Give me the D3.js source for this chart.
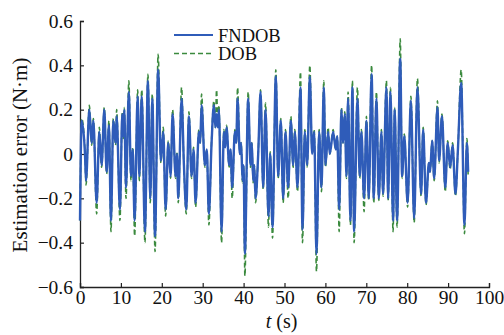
<!DOCTYPE html>
<html>
<head>
<meta charset="utf-8">
<script src="https://cdn.jsdelivr.net/npm/d3@7"></script>
<style>
  body { margin: 0; background: #fff; }
</style>
</head>
<body>
<div id="chart"></div>
<script>
// estimation error at its local peaks and troughs
var times = [0, 0.41, 1.22, 1.47, 2.28, 2.85, 3.26, 4.07, 4.72, 5.29, 5.94, 6.51, 7.08, 7.57, 8.14, 8.71, 8.96, 9.77,
  10.34, 10.6, 10.83, 11.24, 11.95, 12.46, 12.9, 13.35, 14.1, 14.5, 15.1, 15.88, 16.61, 17.18, 17.67, 18.35, 19.1, 19.79,
  20.36, 20.93, 21.58, 22.15, 22.64, 23.37, 23.7, 24.02, 24.84, 25.41, 25.98, 26.63, 27.28, 27.77, 28.26, 29.07, 29.4, 29.72,
  30.54, 31.0, 31.51, 32.17, 32.74, 33.1, 33.39, 33.7, 33.96, 34.61, 35.18, 35.5, 35.83, 36.48, 36.8, 37.21, 37.87, 38.2, 38.52,
  39.09, 39.4, 39.74, 40.0, 40.31, 41.12, 41.69, 42.0, 42.35, 42.6, 42.92, 43.57, 44.14, 44.79, 45.36, 46.09, 46.5, 47.07, 47.88,
  48.45, 49.1, 49.67, 50.24, 50.9, 51.55, 52.12, 52.52, 53.18, 53.91, 54.4, 54.97, 55.54, 56.19, 56.76, 57.25, 57.82, 58.47,
  59.04, 59.61, 60.02, 60.67, 61.07, 61.89, 62.54, 62.9, 63.36, 63.93, 64.3, 64.74, 65.15, 65.55, 66.12, 66.61, 67.02, 67.83,
  68.4, 68.81, 69.46, 70.03, 70.6, 71.3, 71.82, 72.48, 73.05, 73.7, 74.1, 74.92, 75.33, 75.9, 76.55, 76.95, 77.52, 78.3,
  78.75, 79.3, 80.1, 80.9, 81.7, 82.5, 83.4, 83.9, 84.6, 85.3, 85.6, 86.1, 86.6, 87.4, 87.8, 88.5, 89.3, 89.9, 90.5, 91.1,
  91.8, 92.4, 93.2, 94.0, 94.6, 94.9];

var fndob = [-0.30, 0.15, 0.00, -0.12, 0.20, 0.05, 0.15, -0.22, 0.10, -0.05, 0.20, -0.08, 0.13, -0.30, 0.15, 0.05, 0.17, -0.25,
  0.18, 0.08, 0.20, -0.15, 0.28, -0.10, 0.02, -0.30, 0.26, -0.10, 0.26, -0.35, 0.33, -0.20, 0.25, -0.37, 0.38, -0.03,
  0.10, -0.25, 0.05, -0.10, 0.18, -0.10, 0.00, -0.20, 0.25, -0.05, -0.25, 0.17, -0.10, 0.02, -0.22, 0.10, 0.05, 0.22,
  -0.05, 0.02, -0.27, 0.05, 0.22, 0.12, 0.18, 0.12, 0.20, -0.35, 0.10, 0.03, 0.12, -0.05, 0.02, -0.15, 0.10, 0.05, 0.25,
  0.00, 0.05, -0.12, -0.05, -0.45, 0.25, -0.05, 0.05, -0.12, -0.05, -0.20, 0.00, 0.28, -0.15, 0.20, -0.28, 0.00, -0.33, 0.35,
  -0.10, 0.15, -0.20, 0.10, -0.15, 0.15, -0.05, 0.10, -0.15, 0.30, -0.34, 0.10, -0.05, 0.35, 0.00, 0.10, -0.45, 0.10,
  -0.15, 0.30, -0.05, 0.10, 0.00, 0.10, 0.02, 0.08, -0.25, 0.20, 0.05, 0.18, -0.10, 0.25, -0.30, 0.30, -0.35, 0.25,
  -0.10, 0.10, -0.20, 0.15, -0.20, 0.36, -0.20, 0.25, -0.20, 0.10, -0.18, 0.30, -0.20, 0.28, -0.30, 0.20, -0.30, 0.43,
  -0.10, 0.08, -0.22, 0.24, -0.29, 0.30, -0.18, 0.11, -0.22, -0.04, -0.08, 0.06, -0.11, 0.21, -0.03, 0.17, -0.15, 0.05, -0.06, 0.04,
  -0.18, 0.02, 0.32, -0.32, 0.05, -0.08];

var dob = [-0.30, 0.16, 0.01, -0.14, 0.22, 0.04, 0.16, -0.27, 0.12, -0.06, 0.21, -0.09, 0.15, -0.35, 0.16, 0.04, 0.20, -0.30,
  0.19, 0.07, 0.21, -0.20, 0.33, -0.12, 0.03, -0.37, 0.29, -0.12, 0.29, -0.40, 0.36, -0.22, 0.27, -0.44, 0.45, -0.04,
  0.12, -0.28, 0.06, -0.11, 0.20, -0.11, 0.01, -0.22, 0.30, -0.06, -0.27, 0.19, -0.11, 0.03, -0.24, 0.11, 0.05, 0.27,
  -0.06, 0.02, -0.32, 0.06, 0.24, 0.12, 0.29, 0.13, 0.22, -0.40, 0.11, 0.03, 0.13, -0.06, 0.02, -0.20, 0.11, 0.05, 0.30,
  0.00, 0.05, -0.13, -0.05, -0.55, 0.28, -0.06, 0.05, -0.13, -0.05, -0.22, 0.00, 0.29, -0.16, 0.23, -0.33, 0.01, -0.38, 0.38,
  -0.11, 0.16, -0.22, 0.11, -0.20, 0.17, -0.06, 0.11, -0.17, 0.37, -0.40, 0.11, -0.06, 0.40, 0.00, 0.11, -0.53, 0.11,
  -0.17, 0.33, -0.06, 0.12, 0.00, 0.11, 0.02, 0.08, -0.35, 0.21, 0.05, 0.19, -0.11, 0.28, -0.32, 0.33, -0.40, 0.30,
  -0.11, 0.11, -0.26, 0.17, -0.21, 0.40, -0.22, 0.28, -0.21, 0.11, -0.19, 0.33, -0.21, 0.30, -0.35, 0.21, -0.33, 0.52,
  -0.11, 0.09, -0.24, 0.26, -0.31, 0.34, -0.19, 0.12, -0.23, -0.04, -0.08, 0.06, -0.12, 0.24, -0.04, 0.18, -0.17, 0.06, -0.07, 0.05,
  -0.19, 0.02, 0.38, -0.36, 0.07, -0.10];

var xTicks = [0, 10, 20, 30, 40, 50, 60, 70, 80, 90, 100];
var yTicks = [-0.6, -0.4, -0.2, 0, 0.2, 0.4, 0.6];

var FONT = "Liberation Serif";

var W = 504, H = 335;
var margin = {top: 21, right: 15, bottom: 48, left: 80};
var width = W - margin.left - margin.right,
    height = H - margin.top - margin.bottom;

var svg = d3.select("#chart").append("svg")
  .attr("width", W)
  .attr("height", H)
  .style("font-family", FONT);

var g = svg.append("g")
  .attr("transform", "translate(" + margin.left + "," + margin.top + ")");

var x = d3.scaleLinear().domain([0, 100]).range([0, width]);
var y = d3.scaleLinear().domain([-0.6, 0.6]).range([height, 0]);

var fmt = function(d) { return d === 0 ? "0" : d3.format(".1f")(d); };

// axes, ticks point inward
var xAxis = g.append("g")
  .attr("transform", "translate(0," + height + ")")
  .call(d3.axisBottom(x).tickValues(xTicks).tickSize(-4).tickPadding(3).tickFormat(d3.format("d")));
var yAxis = g.append("g")
  .call(d3.axisLeft(y).tickValues(yTicks).tickSize(-4).tickPadding(7).tickFormat(fmt));

[xAxis, yAxis].forEach(function(a) {
  a.attr("font-family", null).attr("font-size", null);
  a.select(".domain").attr("stroke", "#222").attr("stroke-width", 1.3);
  a.selectAll(".tick line").attr("stroke", "#222").attr("stroke-width", 1.2);
  a.selectAll("text").attr("fill", "#111").style("font-family", FONT).style("font-size", "19.5px");
});

var pts = times.map(function(t, i) { return {t: t, f: fndob[i], d: dob[i]}; });

var lineD = d3.line().x(function(d) { return x(d.t); }).y(function(d) { return y(d.d); }).curve(d3.curveMonotoneX);
var lineF = d3.line().x(function(d) { return x(d.t); }).y(function(d) { return y(d.f); }).curve(d3.curveMonotoneX);

var green = "#3b8a3e", blue = "#2f5cb9";

g.append("path").datum(pts)
  .attr("d", lineD)
  .attr("fill", "none")
  .attr("stroke", green)
  .attr("stroke-width", 1.6)
  .attr("stroke-dasharray", "5,3");

g.append("path").datum(pts)
  .attr("d", lineF)
  .attr("fill", "none")
  .attr("stroke", blue)
  .attr("stroke-width", 2.4)
  .attr("stroke-linejoin", "round");

// legend
var legend = svg.append("g");
var items = [{name: "FNDOB", color: blue, dash: null, w: 2}, {name: "DOB", color: green, dash: "5,3", w: 1.6}];
items.forEach(function(it, i) {
  var yy = 35 + i * 18.5;
  legend.append("line")
    .attr("x1", 174).attr("x2", 213).attr("y1", yy).attr("y2", yy)
    .attr("stroke", it.color).attr("stroke-width", it.w)
    .attr("stroke-dasharray", it.dash);
  legend.append("text")
    .attr("x", 218).attr("y", yy + 6.5)
    .attr("fill", "#111")
    .style("font-family", FONT)
    .style("font-size", "18.5px")
    .text(it.name);
});

// axis titles
var xt = svg.append("text")
  .attr("x", margin.left + width / 2 - 3)
  .attr("y", 328)
  .attr("text-anchor", "middle")
  .attr("fill", "#111")
  .style("font-family", FONT)
  .style("font-size", "20px");
xt.append("tspan").style("font-style", "italic").text("t");
xt.append("tspan").text(" (s)");

svg.append("text")
  .attr("transform", "translate(27," + (margin.top + height / 2 + 1) + ") rotate(-90)")
  .attr("text-anchor", "middle")
  .attr("fill", "#111")
  .style("font-family", FONT)
  .style("font-size", "21px")
  .text("Estimation error (N·m)");
</script>
</body>
</html>
